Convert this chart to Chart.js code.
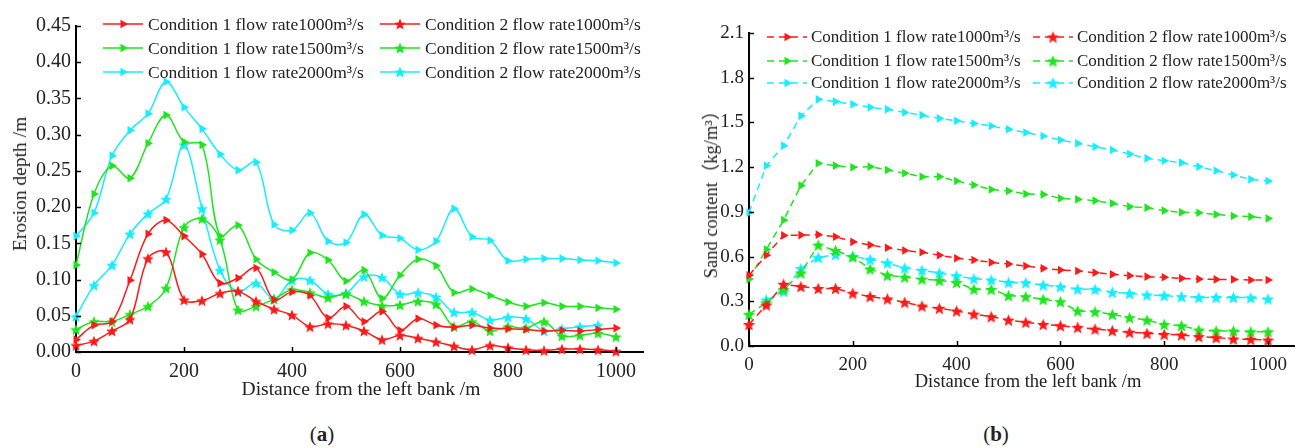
<!DOCTYPE html>
<html>
<head>
<meta charset="utf-8">
<script src="https://cdn.jsdelivr.net/npm/chart.js@4.4.0/dist/chart.umd.min.js"></script>
<style>
  body { margin:0; background:#fff; width:1299px; height:448px; position:relative; overflow:hidden;
         font-family:"Liberation Serif", "Noto Sans CJK SC", serif; color:#222; }
  canvas { position:absolute; top:0; }
  #left { left:0; }
  #right { left:690px; }
  .lbl { position:absolute; white-space:nowrap; transform:translate(-50%,-50%); }
  .rot { transform:translate(-50%,-50%) rotate(-90deg); }
</style>
</head>
<body>
<canvas id="left" width="660" height="400" style="width:660px;height:400px"></canvas>
<canvas id="right" width="609" height="400" style="width:609px;height:400px"></canvas>

<div class="lbl rot" style="left:20px;top:184px;font-size:19.5px">Erosion depth /m</div>
<div class="lbl" style="left:361px;top:389px;font-size:19.5px">Distance from the left bank /m</div>
<div class="lbl rot" style="left:709px;top:190px;font-size:18.5px">Sand content（kg/m³）</div>
<div class="lbl" style="left:1028px;top:381px;font-size:18.5px">Distance from the left bank /m</div>
<div class="lbl" style="left:322px;top:434px;font-size:21px">(<b>a</b>)</div>
<div class="lbl" style="left:996px;top:434px;font-size:21px">(<b>b</b>)</div>

<script>
// x positions (m from left bank)
const distance = [0, 33.3, 66.7, 100, 133.3, 166.7, 200, 233.3, 266.7, 300, 333.3, 366.7, 400, 433.3, 466.7,
                  500, 533.3, 566.7, 600, 633.3, 666.7, 700, 733.3, 766.7, 800, 833.3, 866.7, 900, 933.3, 966.7, 1000];

const seriesNames = [
  "Condition 1 flow rate1000m³/s", "Condition 1 flow rate1500m³/s", "Condition 1 flow rate2000m³/s",
  "Condition 2 flow rate1000m³/s", "Condition 2 flow rate1500m³/s", "Condition 2 flow rate2000m³/s"
];

// (a) erosion depth /m
const erosionC1_1000 = [0.017, 0.037, 0.042, 0.099, 0.163, 0.182, 0.160, 0.135, 0.095, 0.102, 0.116, 0.072, 0.083, 0.078, 0.047, 0.063, 0.042, 0.056, 0.030, 0.046, 0.037, 0.034, 0.037, 0.033, 0.032, 0.031, 0.029, 0.030, 0.029, 0.031, 0.033];
const erosionC1_1500 = [0.120, 0.218, 0.257, 0.240, 0.288, 0.327, 0.290, 0.286, 0.160, 0.175, 0.128, 0.110, 0.100, 0.137, 0.127, 0.098, 0.113, 0.074, 0.106, 0.128, 0.119, 0.082, 0.087, 0.078, 0.069, 0.063, 0.068, 0.063, 0.063, 0.061, 0.059];
const erosionC1_2000 = [0.160, 0.192, 0.271, 0.306, 0.329, 0.373, 0.338, 0.308, 0.273, 0.251, 0.262, 0.176, 0.168, 0.192, 0.153, 0.151, 0.190, 0.161, 0.157, 0.141, 0.153, 0.198, 0.159, 0.154, 0.126, 0.128, 0.129, 0.129, 0.127, 0.126, 0.123];
const erosionC2_1000 = [0.009, 0.015, 0.029, 0.045, 0.129, 0.138, 0.072, 0.071, 0.081, 0.084, 0.070, 0.059, 0.051, 0.035, 0.039, 0.037, 0.029, 0.017, 0.023, 0.019, 0.014, 0.008, 0.003, 0.009, 0.006, 0.003, 0.002, 0.004, 0.004, 0.003, 0.001];
const erosionC2_1500 = [0.031, 0.042, 0.042, 0.052, 0.063, 0.088, 0.172, 0.184, 0.155, 0.058, 0.063, 0.073, 0.086, 0.082, 0.075, 0.080, 0.070, 0.064, 0.065, 0.070, 0.066, 0.035, 0.042, 0.029, 0.035, 0.033, 0.042, 0.022, 0.023, 0.026, 0.021];
const erosionC2_2000 = [0.049, 0.092, 0.120, 0.163, 0.191, 0.211, 0.286, 0.198, 0.113, 0.083, 0.095, 0.073, 0.099, 0.099, 0.080, 0.081, 0.104, 0.103, 0.080, 0.082, 0.076, 0.055, 0.055, 0.044, 0.048, 0.046, 0.029, 0.032, 0.035, 0.037, null];

// (b) sand content kg/m3
const sandC1_1000 = [0.474, 0.609, 0.742, 0.744, 0.747, 0.733, 0.699, 0.677, 0.659, 0.641, 0.629, 0.609, 0.589, 0.577, 0.561, 0.550, 0.537, 0.521, 0.510, 0.503, 0.492, 0.481, 0.472, 0.465, 0.461, 0.454, 0.449, 0.447, 0.447, 0.443, 0.443];
const sandC1_1500 = [0.449, 0.647, 0.844, 1.076, 1.226, 1.210, 1.199, 1.203, 1.181, 1.159, 1.136, 1.136, 1.107, 1.080, 1.050, 1.040, 1.020, 1.017, 0.991, 0.984, 0.975, 0.957, 0.935, 0.928, 0.908, 0.897, 0.894, 0.883, 0.872, 0.868, 0.856];
const sandC1_2000 = [0.895, 1.210, 1.344, 1.544, 1.655, 1.640, 1.622, 1.601, 1.588, 1.567, 1.549, 1.527, 1.511, 1.493, 1.476, 1.454, 1.432, 1.409, 1.382, 1.360, 1.337, 1.315, 1.288, 1.259, 1.243, 1.230, 1.203, 1.176, 1.147, 1.118, 1.107];
const sandC2_1000 = [0.144, 0.275, 0.414, 0.399, 0.386, 0.386, 0.354, 0.332, 0.316, 0.293, 0.268, 0.253, 0.235, 0.214, 0.197, 0.174, 0.159, 0.145, 0.136, 0.125, 0.114, 0.103, 0.092, 0.085, 0.078, 0.074, 0.063, 0.056, 0.047, 0.045, 0.040];
const sandC2_1500 = [0.212, 0.290, 0.380, 0.490, 0.677, 0.641, 0.598, 0.517, 0.474, 0.462, 0.449, 0.440, 0.426, 0.381, 0.380, 0.338, 0.331, 0.313, 0.297, 0.235, 0.230, 0.212, 0.190, 0.174, 0.145, 0.136, 0.107, 0.101, 0.101, 0.096, 0.096];
const sandC2_2000 = [null, 0.309, 0.366, 0.520, 0.593, 0.614, 0.602, 0.580, 0.557, 0.523, 0.508, 0.490, 0.471, 0.451, 0.443, 0.427, 0.425, 0.409, 0.398, 0.382, 0.380, 0.360, 0.353, 0.342, 0.338, 0.331, 0.326, 0.326, 0.326, 0.324, 0.315];

// axes
const xTicks = [0, 200, 400, 600, 800, 1000];
const erosionTicks = [0, 0.05, 0.10, 0.15, 0.20, 0.25, 0.30, 0.35, 0.40, 0.45];
const sandTicks = [0, 0.3, 0.6, 0.9, 1.2, 1.5, 1.8, 2.1];

const RED = "#ff1a1a", GREEN = "#1ee61e", CYAN = "#14eeff";

// filled five-point star used as marker
function starImage(color, size) {
  const c = document.createElement("canvas");
  c.width = c.height = size;
  const g = c.getContext("2d");
  const R = size / 2, r = R * 0.45, cx = R, cy = R + size * 0.05;
  g.beginPath();
  for (let k = 0; k < 10; k++) {
    const rad = k % 2 ? r : R;
    const ang = -Math.PI / 2 + k * Math.PI / 5;
    g.lineTo(cx + rad * Math.cos(ang), cy + rad * Math.sin(ang));
  }
  g.closePath();
  g.fillStyle = color;
  g.fill();
  return c;
}

// ticks drawn inside the plot, like the original
const innerTicks = {
  id: "innerTicks",
  afterDraw(chart) {
    const ctx = chart.ctx, a = chart.chartArea;
    const xs = chart.scales.x, ys = chart.scales.y;
    ctx.save();
    ctx.strokeStyle = "#000";
    ctx.lineWidth = 1.5;
    xs.ticks.forEach(t => {
      const px = Math.round(xs.getPixelForValue(t.value)) + 0.5;
      ctx.beginPath(); ctx.moveTo(px, a.bottom); ctx.lineTo(px, a.bottom - 5); ctx.stroke();
    });
    ys.ticks.forEach(t => {
      const py = Math.round(ys.getPixelForValue(t.value)) + 0.5;
      ctx.beginPath(); ctx.moveTo(a.left, py); ctx.lineTo(a.left + 5, py); ctx.stroke();
    });
    ctx.restore();
  }
};

// two-column legend: line sample with marker in the middle, then text
const lineLegend = {
  id: "lineLegend",
  afterDatasetsDraw(chart, args, opts) {
    const ctx = chart.ctx;
    ctx.save();
    chart.data.datasets.forEach((ds, i) => {
      const col = Math.floor(i / 3), row = i % 3;
      const x0 = opts.cols[col], y = opts.rows[row];
      const x1 = x0 + opts.lineLen;
      ctx.strokeStyle = ds.borderColor;
      ctx.lineWidth = ds.borderWidth;
      ctx.setLineDash(ds.borderDash || []);
      ctx.beginPath(); ctx.moveTo(x0, y); ctx.lineTo(x1, y); ctx.stroke();
      ctx.setLineDash([]);
      ctx.fillStyle = ds.pointBackgroundColor;
      ctx.strokeStyle = ds.pointBackgroundColor;
      Chart.helpers.drawPoint(ctx, {
        pointStyle: ds.pointStyle, rotation: ds.pointRotation || 0,
        radius: ds.pointRadius, borderWidth: 0
      }, (x0 + x1) / 2, y);
      ctx.fillStyle = "#222";
      ctx.font = opts.font;
      ctx.textBaseline = "middle";
      ctx.textAlign = "left";
      ctx.fillText(ds.label, x1 + opts.gap, y + 1);
    });
    ctx.restore();
  }
};

function makeDatasets(list, dashed, tension, starSize) {
  const colors = [RED, GREEN, CYAN, RED, GREEN, CYAN];
  return list.map((vals, i) => {
    const isStar = i >= 3;
    return {
      label: seriesNames[i],
      data: vals.map((v, k) => ({ x: distance[k], y: v })),
      borderColor: colors[i],
      borderWidth: 1.5,
      borderDash: dashed ? [7, 5] : [],
      tension: tension,
      pointStyle: isStar ? starImage(colors[i], starSize) : "triangle",
      pointRotation: isStar ? 0 : 90,
      pointRadius: 5,
      pointBackgroundColor: colors[i],
      pointBorderWidth: 0,
      clip: false
    };
  });
}

function makeChart(id, datasets, o) {
  return new Chart(document.getElementById(id), {
    type: "line",
    data: { datasets: datasets },
    plugins: [innerTicks, lineLegend],
    options: {
      responsive: false,
      animation: false,
      layout: { padding: o.padding },
      plugins: {
        legend: { display: false },
        tooltip: { enabled: false },
        lineLegend: o.legend
      },
      scales: {
        x: {
          type: "linear", min: 0, max: 1050,
          afterBuildTicks: s => { s.ticks = xTicks.map(v => ({ value: v })); },
          afterFit: s => { s.height = o.xHeight; },
          grid: { drawOnChartArea: false, drawTicks: false },
          border: { color: "#000", width: 2 },
          ticks: { color: "#222", padding: 8, font: { family: "Liberation Serif", size: o.tickSize },
                   callback: v => String(v) }
        },
        y: {
          min: 0, max: o.yMax,
          afterBuildTicks: s => { s.ticks = o.yTicks.map(v => ({ value: v })); },
          afterFit: s => { s.width = o.yWidth; },
          grid: { drawOnChartArea: false, drawTicks: false },
          border: { color: "#000", width: 2 },
          ticks: { color: "#222", padding: 5, font: { family: "Liberation Serif", size: o.tickSize },
                   callback: v => v.toFixed(o.decimals) }
        }
      }
    }
  });
}

makeChart("left",
  makeDatasets([erosionC1_1000, erosionC1_1500, erosionC1_2000, erosionC2_1000, erosionC2_1500, erosionC2_2000], false, 0.35, 12),
  { padding: { left: 0, right: 17, top: 26, bottom: 0 }, xHeight: 48, yWidth: 76,
    yMax: 0.45, yTicks: erosionTicks, decimals: 2, tickSize: 20,
    legend: { cols: [103, 380], rows: [24, 48, 72], lineLen: 40, gap: 5, font: "17.5px 'Liberation Serif'" } });

makeChart("right",
  makeDatasets([sandC1_1000, sandC1_1500, sandC1_2000, sandC2_1000, sandC2_1500, sandC2_2000], true, 0, 13),
  { padding: { left: 0, right: 2, top: 33, bottom: 0 }, xHeight: 54, yWidth: 59,
    yMax: 2.1, yTicks: sandTicks, decimals: 1, tickSize: 19,
    legend: { cols: [77, 343], rows: [37, 61, 83], lineLen: 40, gap: 4, font: "17px 'Liberation Serif'" } });
</script>
</body>
</html>
